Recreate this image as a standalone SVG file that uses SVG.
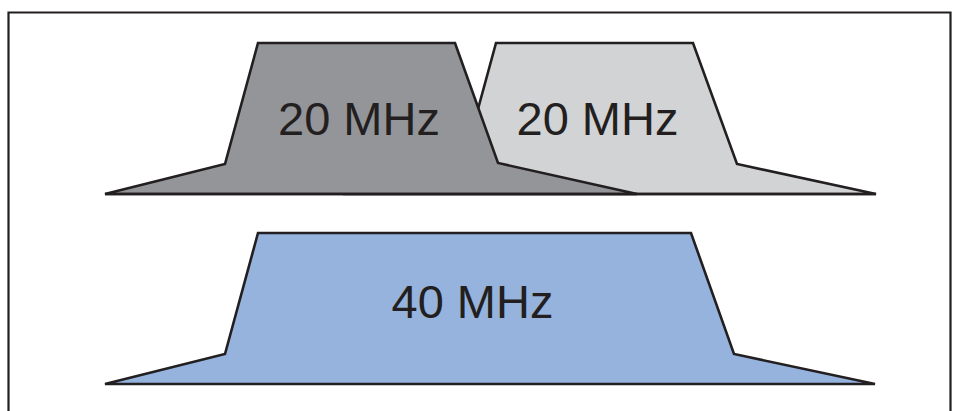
<svg xmlns="http://www.w3.org/2000/svg" width="958" height="411" viewBox="0 0 958 411">
<style>
.band{stroke:#231f20;stroke-width:2.6;stroke-linejoin:miter}
.lbl{font-family:"Liberation Sans",Arial,sans-serif;font-size:47px;fill:#231f20;text-anchor:middle}
</style>
<rect x="0" y="0" width="958" height="411" fill="#ffffff"/>
<path d="M8.5 420 V12.5 H950.5 V420" fill="none" stroke="#231f20" stroke-width="2.2"/>
<g id="ch2">
<polygon class="band" fill="#d1d3d4" points="343,194 463,164 496,43 693,43 737,164 876,194"/>
<text class="lbl" x="597.5" y="134.5">20 MHz</text>
</g>
<g id="ch1">
<polygon class="band" fill="#939598" points="105,194 225,164 258,43 455,43 498,163 637,194"/>
<text class="lbl" x="359" y="134.5">20 MHz</text>
</g>
<line x1="105" y1="194" x2="876" y2="194" stroke="#231f20" stroke-width="2.6"/>
<g id="ch40">
<polygon class="band" fill="#95b3dd" points="105,384 225,354 258,233 691,233 734,354 875,384"/>
<text class="lbl" x="472.5" y="317.5">40 MHz</text>
</g>
</svg>
